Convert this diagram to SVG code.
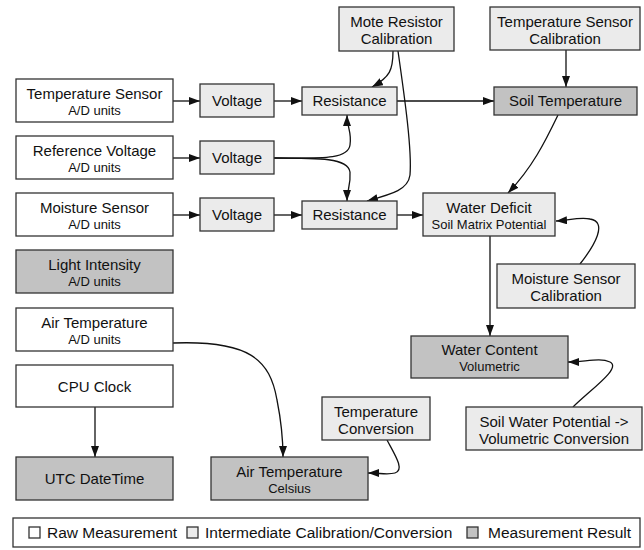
<svg xmlns="http://www.w3.org/2000/svg" width="644" height="550" viewBox="0 0 644 550">
<defs>
<style>
.raw{fill:#ffffff;stroke:#333;stroke-width:1.3}
.mid{fill:#ebebeb;stroke:#333;stroke-width:1.3}
.res{fill:#c2c2c2;stroke:#333;stroke-width:1.3}
text{font-family:"Liberation Sans",Arial,Helvetica,sans-serif;fill:#111;text-anchor:middle}
.t{font-size:15px}
.s{font-size:13px}
.lg{font-size:15.5px;text-anchor:start}
.c path{fill:none;stroke:#111;stroke-width:1.3;marker-end:url(#ah)}
</style>
<marker id="ah" markerUnits="userSpaceOnUse" viewBox="0 0 11 8" refX="11" refY="4" markerWidth="11" markerHeight="8" orient="auto">
<path d="M0,0 L11,4 L0,8 z" fill="#111"/>
</marker>
</defs>
<rect width="644" height="550" fill="#ffffff"/>

<g class="c" id="connectors">
<path d="M173,101 L200,101"/>
<path d="M274,101 L302,101"/>
<path d="M173,158 L200,158"/>
<path d="M173,215 L200,215"/>
<path d="M274,215 L302,215"/>
<path d="M274,158 C320,158 348,160 350,145 C352,132 347,128 347,115"/>
<path d="M274,158 C320,158 348,158 350,172 C351,185 347,190 347,201"/>
<path d="M393,51 C393,70 390,77 372,87"/>
<path d="M398,51 C405,100 412,150 410,175 C408,190 392,194 367,201"/>
<path d="M397,101 L494,101"/>
<path d="M566,50 L566,87"/>
<path d="M397,215 L423,215"/>
<path d="M558,115 C545,142 532,168 508,193"/>
<path d="M580,264 C595,245 608,222 590,219 C580,217 570,220 556,221"/>
<path d="M490,236 L490,336"/>
<path d="M573,407 C590,390 622,368 610,362 C600,357 585,362 568,362"/>
<path d="M173,343 C250,340 270,360 277,400 C281,420 283,440 283,457"/>
<path d="M387,440 C395,455 405,470 395,473 C388,475 380,473 368,473"/>
<path d="M95,407 L95,457"/>
</g>

<g id="n_ts_ad"><rect class="raw" x="16" y="79" width="157" height="43"/><text class="t" x="94.5" y="99">Temperature Sensor</text><text class="s" x="94.5" y="115">A/D units</text></g>
<g id="n_v1"><rect class="mid" x="200" y="84" width="74" height="33"/><text class="t" x="237" y="106">Voltage</text></g>
<g id="n_r1"><rect class="mid" x="302" y="87" width="95" height="28"/><text class="t" x="349.5" y="106">Resistance</text></g>
<g id="n_rv_ad"><rect class="raw" x="16" y="136" width="157" height="43"/><text class="t" x="94.5" y="156">Reference Voltage</text><text class="s" x="94.5" y="172">A/D units</text></g>
<g id="n_v2"><rect class="mid" x="200" y="141" width="74" height="33"/><text class="t" x="237" y="163">Voltage</text></g>
<g id="n_ms_ad"><rect class="raw" x="16" y="193" width="157" height="43"/><text class="t" x="94.5" y="213">Moisture Sensor</text><text class="s" x="94.5" y="229">A/D units</text></g>
<g id="n_v3"><rect class="mid" x="200" y="198" width="74" height="33"/><text class="t" x="237" y="220">Voltage</text></g>
<g id="n_r2"><rect class="mid" x="302" y="201" width="95" height="28"/><text class="t" x="349.5" y="220">Resistance</text></g>
<g id="n_mote"><rect class="mid" x="339" y="7" width="115" height="44"/><text class="t" x="396.5" y="27">Mote Resistor</text><text class="t" x="396.5" y="44">Calibration</text></g>
<g id="n_tsc"><rect class="mid" x="490" y="7" width="150" height="43"/><text class="t" x="565" y="27">Temperature Sensor</text><text class="t" x="565" y="44">Calibration</text></g>
<g id="n_soilT"><rect class="res" x="494" y="87" width="143" height="28"/><text class="t" x="565.5" y="106">Soil Temperature</text></g>
<g id="n_wd"><rect class="mid" x="423" y="193" width="132" height="43"/><text class="t" x="489" y="213">Water Deficit</text><text class="s" x="489" y="229">Soil Matrix Potential</text></g>
<g id="n_msc"><rect class="mid" x="497" y="264" width="138" height="44"/><text class="t" x="566" y="284">Moisture Sensor</text><text class="t" x="566" y="301">Calibration</text></g>
<g id="n_wc"><rect class="res" x="411" y="336" width="157" height="42"/><text class="t" x="489.5" y="355">Water Content</text><text class="s" x="489.5" y="371">Volumetric</text></g>
<g id="n_swp"><rect class="mid" x="466" y="407" width="176" height="43"/><text class="t" x="554" y="427">Soil Water Potential -&gt;</text><text class="t" x="554" y="444">Volumetric Conversion</text></g>
<g id="n_light"><rect class="res" x="16" y="250" width="157" height="43"/><text class="t" x="94.5" y="270">Light Intensity</text><text class="s" x="94.5" y="286">A/D units</text></g>
<g id="n_air_ad"><rect class="raw" x="16" y="308" width="157" height="43"/><text class="t" x="94.5" y="328">Air Temperature</text><text class="s" x="94.5" y="344">A/D units</text></g>
<g id="n_cpu"><rect class="raw" x="16" y="365" width="157" height="42"/><text class="t" x="94.5" y="392">CPU Clock</text></g>
<g id="n_utc"><rect class="res" x="16" y="457" width="157" height="43"/><text class="t" x="94.5" y="484">UTC DateTime</text></g>
<g id="n_tc"><rect class="mid" x="322" y="397" width="108" height="43"/><text class="t" x="376" y="417">Temperature</text><text class="t" x="376" y="434">Conversion</text></g>
<g id="n_airC"><rect class="res" x="211" y="457" width="157" height="43"/><text class="t" x="289.5" y="477">Air Temperature</text><text class="s" x="289.5" y="493">Celsius</text></g>

<g id="legend">
<rect x="13" y="518" width="627" height="29" fill="#fff" stroke="#333" stroke-width="1.3"/>
<rect class="raw" x="29" y="527" width="11" height="11"/>
<text class="lg" x="47" y="538">Raw Measurement</text>
<rect class="mid" x="187" y="527" width="11" height="11"/>
<text class="lg" x="205" y="538">Intermediate Calibration/Conversion</text>
<rect class="res" x="467" y="527" width="11" height="11"/>
<text class="lg" x="488" y="538">Measurement Result</text>
</g>
</svg>
